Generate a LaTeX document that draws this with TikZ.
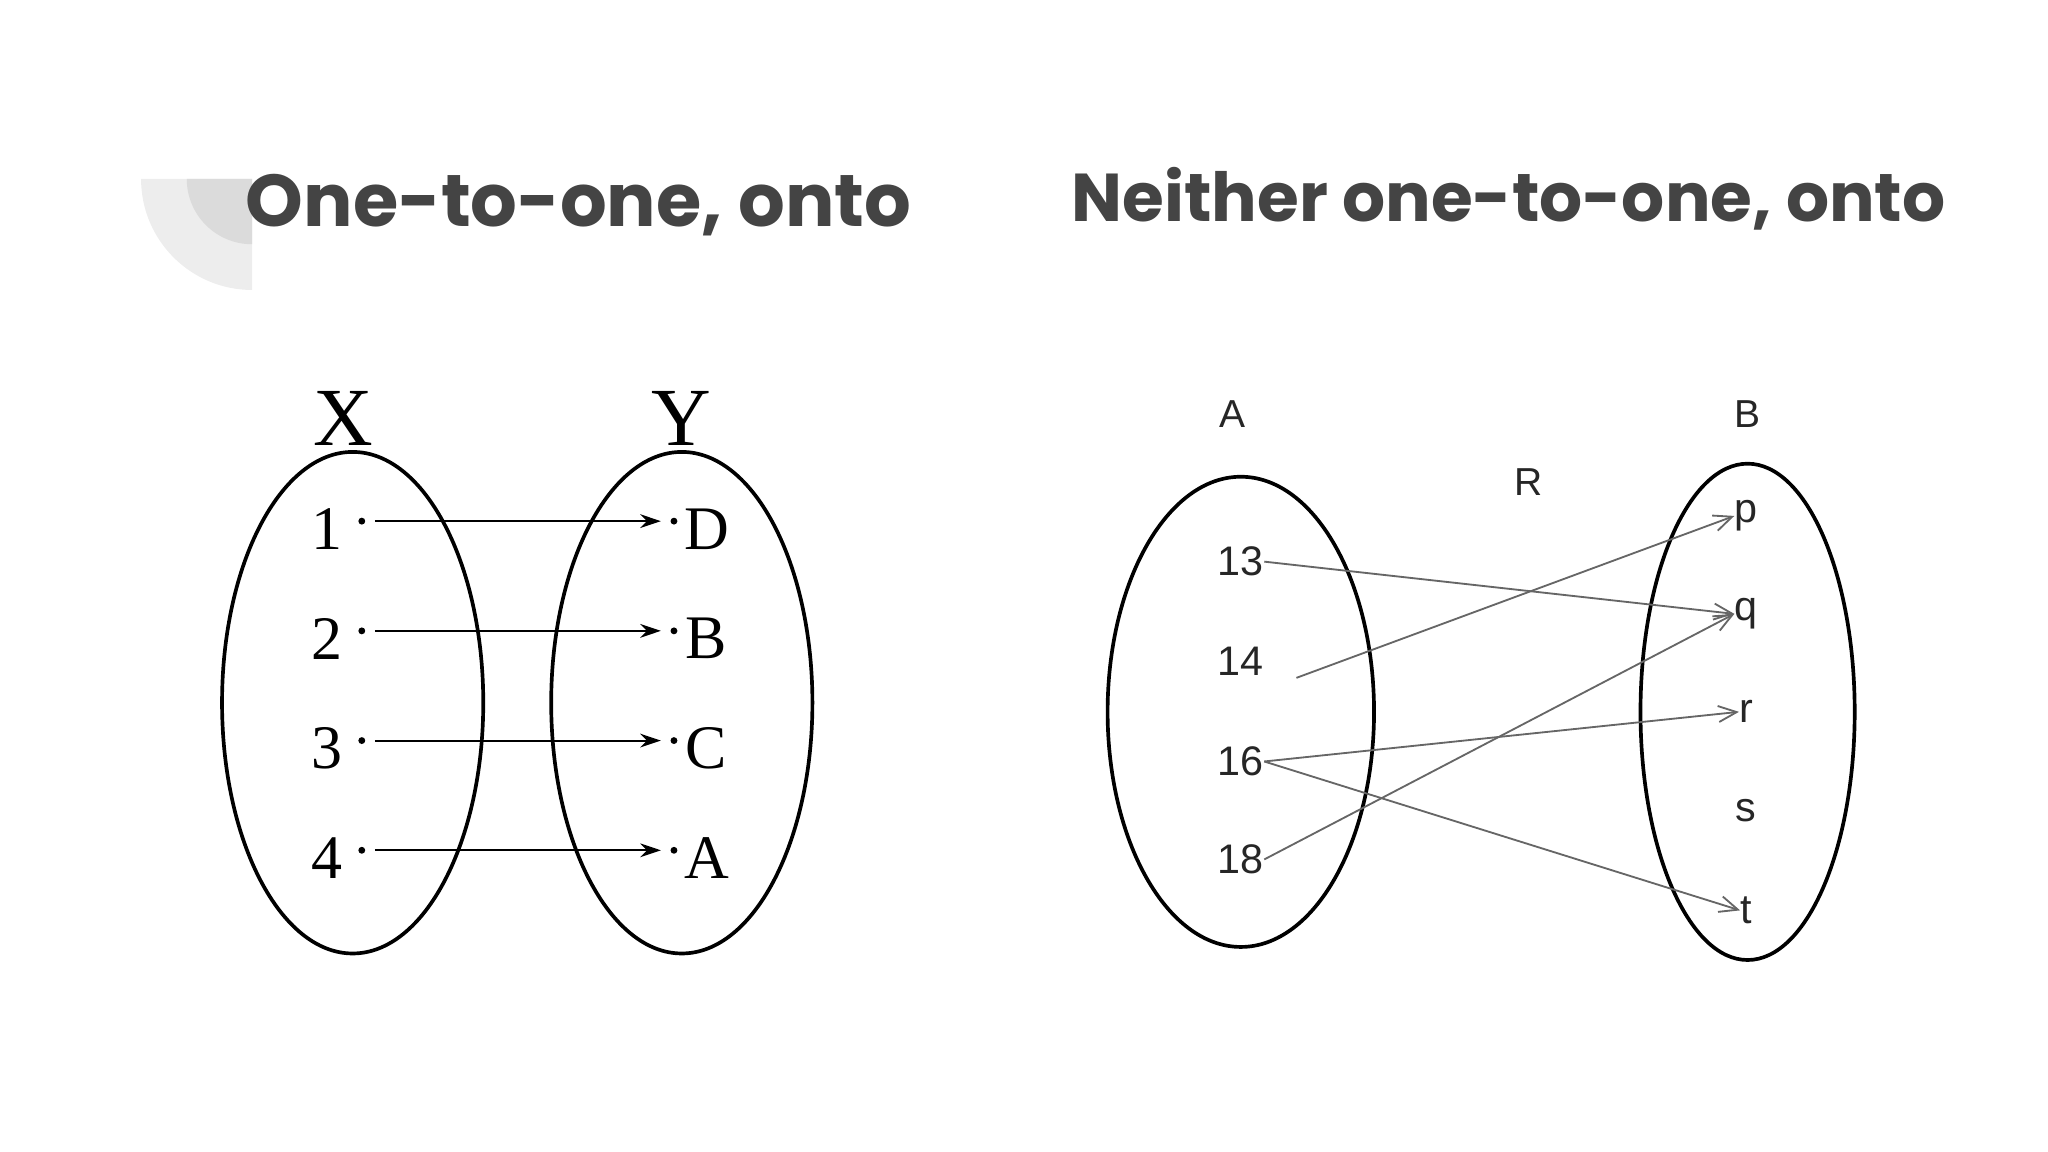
\documentclass[tikz,border=0pt]{standalone}
\usepackage{fontspec}
\setmainfont{Liberation Serif}
\newfontfamily\titlefont{Poppins}
\newfontfamily\sansf{Liberation Sans}
\usetikzlibrary{arrows.meta}
\definecolor{tgray}{HTML}{444444}
\tikzset{
  ttl/.style={font=\titlefont\bfseries\fontsize{32}{36}\selectfont, text=tgray},
  ttlb/.style={font=\titlefont\bfseries\fontsize{29.5}{33}\selectfont, text=tgray},
  setell/.style={draw=black, line width=1.6pt},
  ser/.style={font=\fontsize{27}{30}\selectfont, inner sep=0pt},
  serbig/.style={font=\fontsize{36}{40}\selectfont, inner sep=0pt},
  sml/.style={font=\sansf\fontsize{17}{20}\selectfont, text=black!85, inner sep=0pt},
  smln/.style={font=\sansf\fontsize{18}{22}\selectfont, text=black!85, inner sep=0pt},
  dotn/.style={circle, fill=black, inner sep=0pt, minimum size=3pt},
  blk/.style={-{Stealth[length=9pt,width=6pt]}, line width=0.9pt},
  gry/.style={-{Straight Barb[length=8pt,width=7pt]}, draw=black!60, line width=0.8pt},
}
\begin{document}
\begin{tikzpicture}[x=0.02cm,y=-0.02cm]
\useasboundingbox (0,0) rectangle (1568,882);
% decoration
\fill[black!7] (193,137) -- (108,137) arc[start angle=180,end angle=90,radius=85] -- cycle;
\fill[black!14] (193,137) -- (143,137) arc[start angle=180,end angle=90,radius=50] -- cycle;
\node[ttl] (t1) at (443,157) {One-to-one, onto};
\node[ttlb] (t2) at (1155,152) {Neither one-to-one, onto};
% left
\draw[setell] (270,538) ellipse[x radius=100,y radius=192];
\draw[setell] (522,538) ellipse[x radius=100,y radius=192];
\node[serbig] (X) at (263,320) {X};
\node[serbig] (Y) at (522,320) {Y};
\foreach \n/\l/\y in {1/D/405,2/B/489,3/C/573,4/A/657}{
  \node[ser] (n\n) at (250,\y) {\n};
  \node[dotn] (d\n) at (277,\y-6) {};
  \node[dotn] (e\n) at (516,\y-6) {};
  \node[ser] (l\n) at (541,\y) {\l};
  \draw[blk] (d\n) ++(10,0) -- ([xshift=-4]e\n.west);
}
% right
\draw[setell] (950,545) ellipse[x radius=102,y radius=180];
\draw[setell] (1338,545) ellipse[x radius=82,y radius=190];
\node[sml] (A) at (944,317) {A};
\node[sml] (B) at (1338,317) {B};
\node[sml] (R) at (1170,369) {R};
\foreach \n/\y in {13/430,14/506,16/583,18/658}{\node[smln] (a\n) at (950,\y) {\n};}
\foreach \l/\y in {p/395,q/470,r/545,s/621,t/697}{\node[smln] (b\l) at (1337,\y) {\l};}
\draw[gry] (a13.east) -- (bq.west);
\draw[gry] ([xshift=14,yshift=-1]a14.south east) -- (bp.west);
\draw[gry] (a16.east) -- (br.west);
\draw[gry] (a16.east) -- (bt.west);
\draw[gry] (a18.east) -- (bq.west);
\end{tikzpicture}
\end{document}
